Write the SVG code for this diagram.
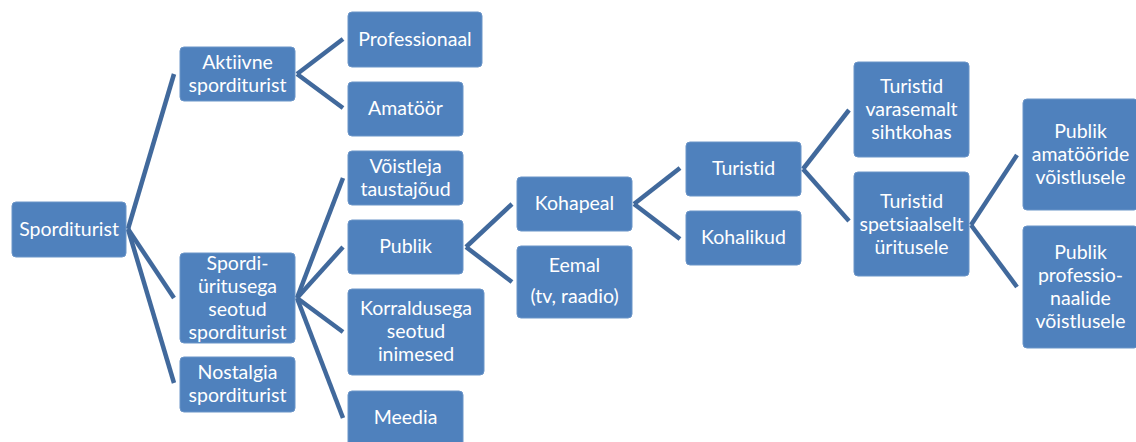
<svg xmlns="http://www.w3.org/2000/svg" width="1136" height="442" viewBox="0 0 1136 442">
<style>
.box{fill:#4f81bd;stroke:#6b95c8;stroke-width:1}
.t{font-family:Lato,"Open Sans","Liberation Sans",sans-serif;font-size:19.5px;fill:#ffffff;text-anchor:middle;font-variant-ligatures:none;font-feature-settings:"liga" 0,"clig" 0}
.c{stroke:#41699c;stroke-width:4.5;fill:none;stroke-linecap:butt}
</style>
<rect width="1136" height="442" fill="#ffffff"/>
<g id="connectors">
<line class="c" x1="128" y1="229" x2="174" y2="74"/>
<line class="c" x1="128" y1="229" x2="174" y2="298"/>
<line class="c" x1="128" y1="229" x2="174" y2="383"/>
<line class="c" x1="297" y1="74" x2="343" y2="39"/>
<line class="c" x1="297" y1="74" x2="343" y2="108"/>
<line class="c" x1="297" y1="298" x2="343" y2="178"/>
<line class="c" x1="297" y1="298" x2="343" y2="247"/>
<line class="c" x1="297" y1="298" x2="343" y2="332"/>
<line class="c" x1="297" y1="298" x2="343" y2="418"/>
<line class="c" x1="466" y1="247" x2="512" y2="204"/>
<line class="c" x1="466" y1="247" x2="512" y2="282"/>
<line class="c" x1="634" y1="204" x2="680" y2="168"/>
<line class="c" x1="634" y1="204" x2="680" y2="239"/>
<line class="c" x1="803" y1="169" x2="849" y2="110"/>
<line class="c" x1="803" y1="169" x2="849" y2="221"/>
<line class="c" x1="971" y1="225" x2="1017" y2="155"/>
<line class="c" x1="971" y1="225" x2="1017" y2="287"/>
</g>
<g id="sporditurist"><rect class="box" x="12" y="202" width="114" height="55" rx="4"/><text class="t" x="69" y="236">Sporditurist</text></g>
<g id="aktiivne"><rect class="box" x="180" y="47" width="115" height="54" rx="4"/><text class="t" x="237.5" y="69">Aktiivne</text><text class="t" x="237.5" y="92">sporditurist</text></g>
<g id="spordiyritus"><rect class="box" x="180" y="253" width="115" height="90" rx="4"/><text class="t" x="237.5" y="270">Spordi-</text><text class="t" x="237.5" y="293">üritusega</text><text class="t" x="237.5" y="316">seotud</text><text class="t" x="237.5" y="339">sporditurist</text></g>
<g id="nostalgia"><rect class="box" x="180" y="357" width="115" height="55" rx="4"/><text class="t" x="237.5" y="379">Nostalgia</text><text class="t" x="237.5" y="402">sporditurist</text></g>
<g id="professionaal"><rect class="box" x="348" y="12" width="134" height="55" rx="4"/><text class="t" x="415" y="46">Professionaal</text></g>
<g id="amatoor"><rect class="box" x="348" y="82" width="115" height="54" rx="4"/><text class="t" x="405.5" y="115">Amatöör</text></g>
<g id="voistleja"><rect class="box" x="348" y="151" width="115" height="54" rx="4"/><text class="t" x="405.5" y="173">Võistleja</text><text class="t" x="405.5" y="196">taustajõud</text></g>
<g id="publik"><rect class="box" x="348" y="220" width="115" height="54" rx="4"/><text class="t" x="405.5" y="253">Publik</text></g>
<g id="korraldus"><rect class="box" x="348" y="289" width="136" height="86" rx="4"/><text class="t" x="416" y="315">Korraldusega</text><text class="t" x="416" y="338">seotud</text><text class="t" x="416" y="361">inimesed</text></g>
<g id="meedia"><rect class="box" x="348" y="391" width="115" height="55" rx="4"/><text class="t" x="405.5" y="424">Meedia</text></g>
<g id="kohapeal"><rect class="box" x="517" y="177" width="115" height="54" rx="4"/><text class="t" x="574.5" y="210">Kohapeal</text></g>
<g id="eemal"><rect class="box" x="517" y="246" width="115" height="72" rx="4"/><text class="t" x="574.5" y="272">Eemal</text><text class="t" x="574.5" y="303">(tv, raadio)</text></g>
<g id="turistid"><rect class="box" x="686" y="142" width="115" height="54" rx="4"/><text class="t" x="743.5" y="175">Turistid</text></g>
<g id="kohalikud"><rect class="box" x="686" y="211" width="115" height="54" rx="4"/><text class="t" x="743.5" y="244">Kohalikud</text></g>
<g id="varasemalt"><rect class="box" x="854" y="62" width="115" height="95" rx="4"/><text class="t" x="911.5" y="93">Turistid</text><text class="t" x="911.5" y="116">varasemalt</text><text class="t" x="911.5" y="139">sihtkohas</text></g>
<g id="spetsiaalselt"><rect class="box" x="854" y="172" width="115" height="104" rx="4"/><text class="t" x="911.5" y="208">Turistid</text><text class="t" x="911.5" y="231">spetsiaalselt</text><text class="t" x="911.5" y="254">üritusele</text></g>
<g id="amatooride"><rect class="box" x="1023" y="99" width="115" height="111" rx="4"/><text class="t" x="1080.5" y="138">Publik</text><text class="t" x="1080.5" y="161">amatööride</text><text class="t" x="1080.5" y="184">võistlusele</text></g>
<g id="professionaalide"><rect class="box" x="1023" y="226" width="115" height="122" rx="4"/><text class="t" x="1080.5" y="259">Publik</text><text class="t" x="1080.5" y="282">professio-</text><text class="t" x="1080.5" y="305">naalide</text><text class="t" x="1080.5" y="328">võistlusele</text></g>
</svg>
